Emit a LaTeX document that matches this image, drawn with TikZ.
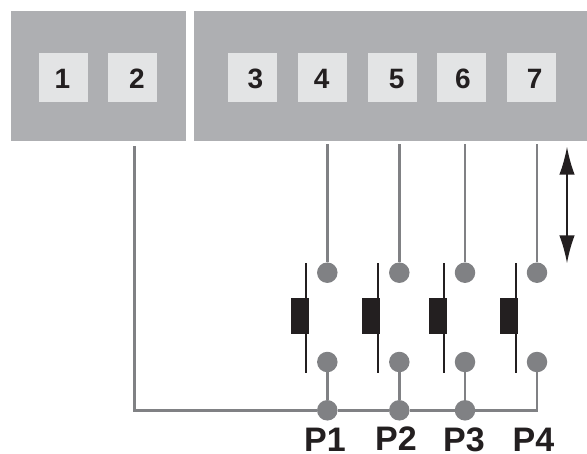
\documentclass[tikz,border=0pt]{standalone}
\usepackage{fontspec}
\setmainfont{Liberation Sans}
\usetikzlibrary{arrows.meta}
\definecolor{panelgray}{HTML}{AEAFB2}
\definecolor{keygray}{HTML}{E3E4E5}
\definecolor{wiregray}{HTML}{808184}
\definecolor{inkblack}{HTML}{231F20}
\tikzset{
  panel/.style={fill=panelgray,draw=none,inner sep=0pt,minimum height=130pt},
  keybox/.style={fill=keygray,draw=none,inner sep=0pt,minimum size=49pt},
  keytext/.style={font=\bfseries\fontsize{28}{28}\selectfont,text=inkblack,inner sep=0pt,anchor=base},
  wire/.style={draw=wiregray,line width=2.6pt},
  pin/.style={circle,fill=wiregray,draw=none,inner sep=0pt,minimum size=20.5pt},
  blade/.style={draw=inkblack,line width=2.2pt},
  plunger/.style={fill=inkblack,draw=none,inner sep=0pt,minimum width=18pt,minimum height=36pt},
  plabel/.style={font=\bfseries\fontsize{34}{34}\selectfont,text=inkblack,inner sep=0pt,anchor=base},
  travel/.style={draw=inkblack,line width=1.8pt,{Latex[length=28pt,width=15.5pt]}-{Latex[length=28pt,width=15.5pt]}}
}
\begin{document}
\begin{tikzpicture}[x=1pt,y=-1pt]
\useasboundingbox (0,0) rectangle (587,453);
% panels
\node[panel,minimum width=175pt] (left) at (98.5,76) {};
\node[panel,minimum width=393pt] (right) at (390.5,76) {};
% keys
\foreach \n/\x/\tx in {1/63.5/62.5,2/132.5/137,3/252.5/255.5,4/322.5/321.7,5/392.5/396.7,6/461.5/463,7/531.5/534.7} {
  \node[keybox] (k\n) at (\x,77.5) {};
  \node[keytext] (kt\n) at (\tx,88.5) {\n};
}
% free wire ends
\coordinate (t0) at (134.5,146);
\coordinate (t1) at (327.3,144);
\coordinate (t2) at (399.3,144);
\coordinate (t3) at (465,144);
\coordinate (t4) at (537,144);
\coordinate (corner) at (134.5,410.3);
\coordinate (endc) at (537,410.3);
% pins
\foreach \i/\x in {1/327.3,2/399.3,3/465,4/537} {
  \node[pin] (u\i) at (\x,272.7) {};
  \node[pin] (d\i) at (\x,362) {};
}
\foreach \i/\x in {1/327.3,2/399.3,3/465}
  \node[pin] (b\i) at (\x,410.3) {};
% wires
\foreach \i in {1,2,3,4}
  \draw[wire] (t\i) -- (u\i);
\foreach \i in {1,2,3}
  \draw[wire] (d\i) -- (b\i);
\draw[wire,line join=miter] (d4) -- (endc) -- (b3);
\draw[wire,line join=miter] (t0) -- (corner) -- (b1);
\draw[wire] (b1) -- (b2);
\draw[wire] (b2) -- (b3);
% switch blades and plungers
\foreach \i/\x/\r in {1/306.3/300,2/378.3/371,3/444.3/438,4/516.3/509} {
  \coordinate (bt\i) at (\x,263.3);
  \coordinate (bb\i) at (\x,373.3);
  \draw[blade] (bt\i) -- (bb\i);
  \node[plunger] (s\i) at (\r,315.8) {};
}
% labels
\node[plabel] (p1) at (325,451.5) {P1};
\node[plabel] (p2) at (396,450) {P2};
\node[plabel] (p3) at (464,451.5) {P3};
\node[plabel] (p4) at (533.5,451) {P4};
% travel arrow
\coordinate (a1) at (567,146.7);
\coordinate (a2) at (567,263.3);
\draw[travel] (a1) -- (a2);
\end{tikzpicture}
\end{document}
